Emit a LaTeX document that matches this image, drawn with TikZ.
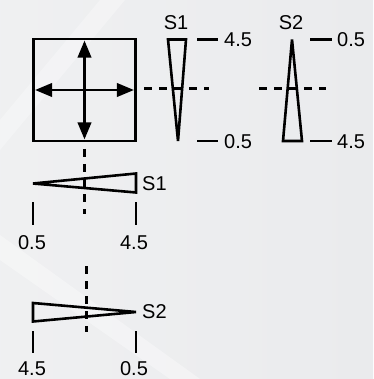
\documentclass[tikz,border=0pt]{standalone}
\usepackage{fontspec}
\setmainfont{Liberation Sans}
\usetikzlibrary{arrows.meta}
\definecolor{bggray}{RGB}{234,235,237}
\tikzset{
  wedge/.style={line width=2.6pt, line join=miter},
  tick/.style={line width=2.7pt},
  axis/.style={line width=2.5pt, dash pattern=on 8pt off 7pt},
  lbl/.style={inner sep=0pt, font=\fontsize{20}{20}\selectfont},
}
\begin{document}
\begin{tikzpicture}[x=1pt, y=-1pt, >={Triangle[length=17pt,width=13.5pt]}]
		% Hintergrund
		\useasboundingbox (0,0) rectangle (373,379);
		\shade[left color=bggray!75!white, right color=bggray] (0,0) rectangle (373,379);
		\fill[white, opacity=0.35] (0,260) -- (170,379) -- (200,379) -- (0,235) -- cycle;
		\fill[white, opacity=0.3] (100,0) -- (125,0) -- (0,150) -- (0,120) -- cycle;
		
		% Quadrat mit Pfeilen
		\node[draw, line width=2.8pt, minimum size=102pt, inner sep=0pt] (box) at (84.5,90) {};
		\draw[->, line width=2.3pt] (box.center) -- ([yshift=-3pt]box.north);
		\draw[->, line width=2.3pt] (box.center) -- ([yshift=3pt]box.south);
		\draw[->, line width=2.3pt] (box.center) -- ([xshift=3pt]box.west);
		\draw[->, line width=2.3pt] (box.center) -- ([xshift=-3pt]box.east);
		
		% Achsen (gestrichelt)
		\coordinate (h1a) at (144,88.5);
		\coordinate (h1b) at (209,88.5);
		\coordinate (h2a) at (259,88.5);
		\coordinate (h2b) at (326,88.5);
		\coordinate (v1a) at (84.5,149);
		\coordinate (v1b) at (84.5,214);
		\coordinate (v2a) at (86.5,266);
		\coordinate (v2b) at (86.5,332);
		\draw[axis] (h1a) -- (h1b);
		\draw[axis] (h2a) -- (h2b);
		\draw[axis] (v1a) -- (v1b);
		\draw[axis] (v2a) -- (v2b);
		
		% Keil S1 (senkrecht)
		\draw[wedge] (168,39.5) -- (186,39.5) -- (178,141) -- cycle;
		\node[lbl] (s1top) at (176,22.5) {S1};
		\draw[tick] (197,39.5) -- (218,39.5);
		\draw[tick] (197,141) -- (218,141);
		\node[lbl, anchor=west] (s1hi) at (224,40) {4.5};
		\node[lbl, anchor=west] (s1lo) at (224,141.5) {0.5};
		
		% Keil S2 (senkrecht)
		\draw[wedge] (292,39.5) -- (302,141) -- (283,141) -- cycle;
		\node[lbl] (s2top) at (291,22.5) {S2};
		\draw[tick] (310,39.5) -- (332,39.5);
		\draw[tick] (310,141) -- (332,141);
		\node[lbl, anchor=west] (s2lo) at (337,40) {0.5};
		\node[lbl, anchor=west] (s2hi) at (337,141.5) {4.5};
		
		% Keil S1 (waagrecht)
		\draw[wedge] (33,183.5) -- (136,173.5) -- (136,192.5) -- cycle;
		\node[lbl, anchor=west] (s1side) at (142,184) {S1};
		\draw[tick] (33,202) -- (33,225);
		\draw[tick] (136,202) -- (136,225);
		\node[lbl] (s1a) at (32,243) {0.5};
		\node[lbl] (s1b) at (134,243) {4.5};
		
		% Keil S2 (waagrecht)
		\draw[wedge] (136,312) -- (33,321.5) -- (33,303) -- cycle;
		\node[lbl, anchor=west] (s2side) at (142,312) {S2};
		\draw[tick] (33,331) -- (33,353);
		\draw[tick] (136,331) -- (136,353);
		\node[lbl] (s2a) at (32,368.5) {4.5};
		\node[lbl] (s2b) at (134,368.5) {0.5};
	\end{tikzpicture}
\end{document}
